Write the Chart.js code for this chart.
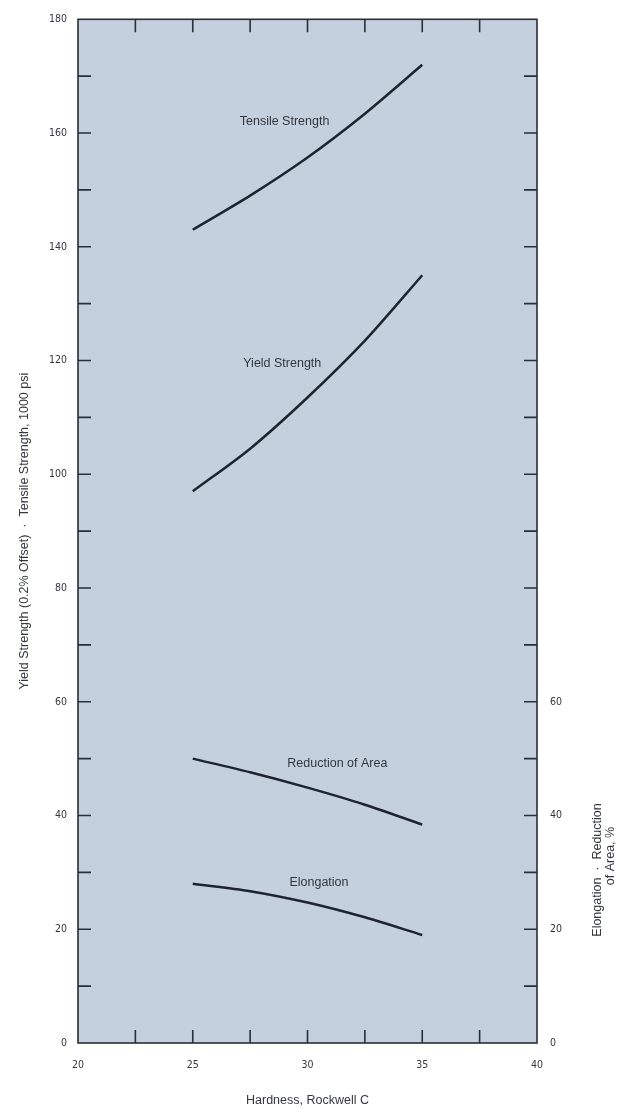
<!DOCTYPE html>
<html>
<head>
<meta charset="utf-8">
<script src="https://cdn.jsdelivr.net/npm/chart.js"></script>
<style>
    html, body { margin: 0; padding: 0; background: #ffffff; }
    #wrap { width: 623px; height: 1112px; position: relative; }
</style>
</head>
<body>
<div id="wrap"><canvas id="chart"></canvas></div>
<script>
// Hardness points (Rockwell C) where the curves are read
const hardness = [25, 27.5, 30, 32.5, 35];

// Strengths, 1000 psi (left axis)
const tensileStrength = [143, 149, 155.7, 163.4, 172];
const yieldStrength = [97, 104.5, 113.5, 123.5, 135];

// Percent (right axis, same scale)
const reductionOfArea = [50, 47.6, 44.9, 41.9, 38.4];
const elongation = [28, 26.7, 24.7, 22.1, 19];

// Curve captions, placed in data units
const curveLabels = ['Tensile Strength', 'Yield Strength', 'Reduction of Area', 'Elongation'];
const curveLabelHardness = [29.0, 28.9, 31.3, 30.5];
const curveLabelValue = [162, 119.4, 49.1, 28.2];

// Axis tick labels
const leftTickLabels = [0, 20, 40, 60, 80, 100, 120, 140, 160, 180];
const rightTickLabels = [0, 20, 40, 60];
const bottomTickLabels = [20, 25, 30, 35, 40];

const TICK_FONT = '"Liberation Sans Narrow", "DejaVu Sans Condensed", sans-serif';
const FONT = '"Liberation Sans", Arial, sans-serif';
const INK = '#1f2530';
const TEXT = '#34373e';

function series(values) {
    return values.map((v, i) => ({ x: hardness[i], y: v }));
}

const plotFrame = {
    id: 'plotFrame',
    beforeDatasetsDraw(chart) {
        const { ctx, chartArea: a } = chart;
        ctx.save();
        ctx.fillStyle = '#c4d0de';
        ctx.fillRect(a.left, a.top, a.right - a.left, a.bottom - a.top);
        ctx.restore();
    },
    afterDatasetsDraw(chart) {
        const { ctx, chartArea: a, scales } = chart;
        const tl = 13;
        ctx.save();
        ctx.strokeStyle = '#2a2e36';
        ctx.lineWidth = 1.6;
        ctx.strokeRect(a.left, a.top, a.right - a.left, a.bottom - a.top);

        // inward tick marks on all four sides
        ctx.beginPath();
        scales.x.ticks.forEach(t => {
            const px = scales.x.getPixelForValue(t.value);
            if (t.value === 20 || t.value === 40) return;
            ctx.moveTo(px, a.bottom); ctx.lineTo(px, a.bottom - tl);
            ctx.moveTo(px, a.top); ctx.lineTo(px, a.top + tl);
        });
        scales.y.ticks.forEach(t => {
            const py = scales.y.getPixelForValue(t.value);
            if (t.value === 0 || t.value === 180) return;
            ctx.moveTo(a.left, py); ctx.lineTo(a.left + tl, py);
            ctx.moveTo(a.right, py); ctx.lineTo(a.right - tl, py);
        });
        ctx.stroke();

        // captions beside the curves
        ctx.fillStyle = TEXT;
        ctx.font = '12.5px ' + FONT;
        ctx.textAlign = 'center';
        ctx.textBaseline = 'middle';
        curveLabels.forEach((txt, i) => {
            ctx.fillText(txt,
                scales.x.getPixelForValue(curveLabelHardness[i]),
                scales.y.getPixelForValue(curveLabelValue[i]));
        });

        // right axis title, reading bottom to top
        ctx.translate(598, 870);
        ctx.rotate(-Math.PI / 2);
        ctx.font = '12.5px ' + FONT;
        ctx.fillText('Elongation  ·  Reduction', 0, 0);
        ctx.fillText('of Area, %', 14, 13);
        ctx.restore();
    }
};

new Chart(document.getElementById('chart'), {
    type: 'line',
    data: {
        datasets: [
            { label: 'Tensile Strength', data: series(tensileStrength) },
            { label: 'Yield Strength', data: series(yieldStrength) },
            { label: 'Reduction of Area', data: series(reductionOfArea) },
            { label: 'Elongation', data: series(elongation) }
        ].map(d => Object.assign(d, {
            borderColor: INK,
            borderWidth: 2.5,
            pointRadius: 0,
            fill: false,
            tension: 0.3
        }))
    },
    options: {
        responsive: true,
        maintainAspectRatio: false,
        animation: false,
        layout: { padding: { top: 16, left: 0, right: 0, bottom: 0 } },
        plugins: { legend: { display: false }, tooltip: { enabled: false } },
        scales: {
            x: {
                type: 'linear',
                min: 20, max: 40,
                grid: { display: false, drawTicks: false },
                border: { display: false },
                ticks: {
                    stepSize: 2.5,
                    autoSkip: false,
                    maxRotation: 0,
                    padding: 16,
                    color: TEXT,
                    font: { family: TICK_FONT, size: 10.5 },
                    callback: v => bottomTickLabels.includes(v) ? String(v) : ''
                },
                title: {
                    display: true,
                    text: 'Hardness, Rockwell C',
                    color: TEXT,
                    font: { family: FONT, size: 12.5 },
                    padding: { top: 0, bottom: 4 }
                },
                afterFit: s => { s.height = 69; }
            },
            y: {
                position: 'left',
                min: 0, max: 180,
                grid: { display: false, drawTicks: false },
                border: { display: false },
                ticks: {
                    stepSize: 10,
                    autoSkip: false,
                    padding: 11,
                    color: TEXT,
                    font: { family: TICK_FONT, size: 10.5 },
                    callback: v => leftTickLabels.includes(v) ? String(v) : ''
                },
                title: {
                    display: true,
                    text: 'Yield Strength (0.2% Offset)  ·  Tensile Strength, 1000 psi',
                    color: TEXT,
                    font: { family: FONT, size: 12.5 },
                    padding: { top: 17, bottom: 0 }
                },
                afterFit: s => { s.width = 78; }
            },
            y2: {
                position: 'right',
                min: 0, max: 180,
                grid: { display: false, drawTicks: false },
                border: { display: false },
                ticks: {
                    stepSize: 10,
                    autoSkip: false,
                    padding: 13,
                    color: TEXT,
                    font: { family: TICK_FONT, size: 10.5 },
                    callback: v => rightTickLabels.includes(v) ? String(v) : ''
                },
                afterFit: s => { s.width = 86; }
            }
        }
    },
    plugins: [plotFrame]
});
</script>
</body>
</html>
